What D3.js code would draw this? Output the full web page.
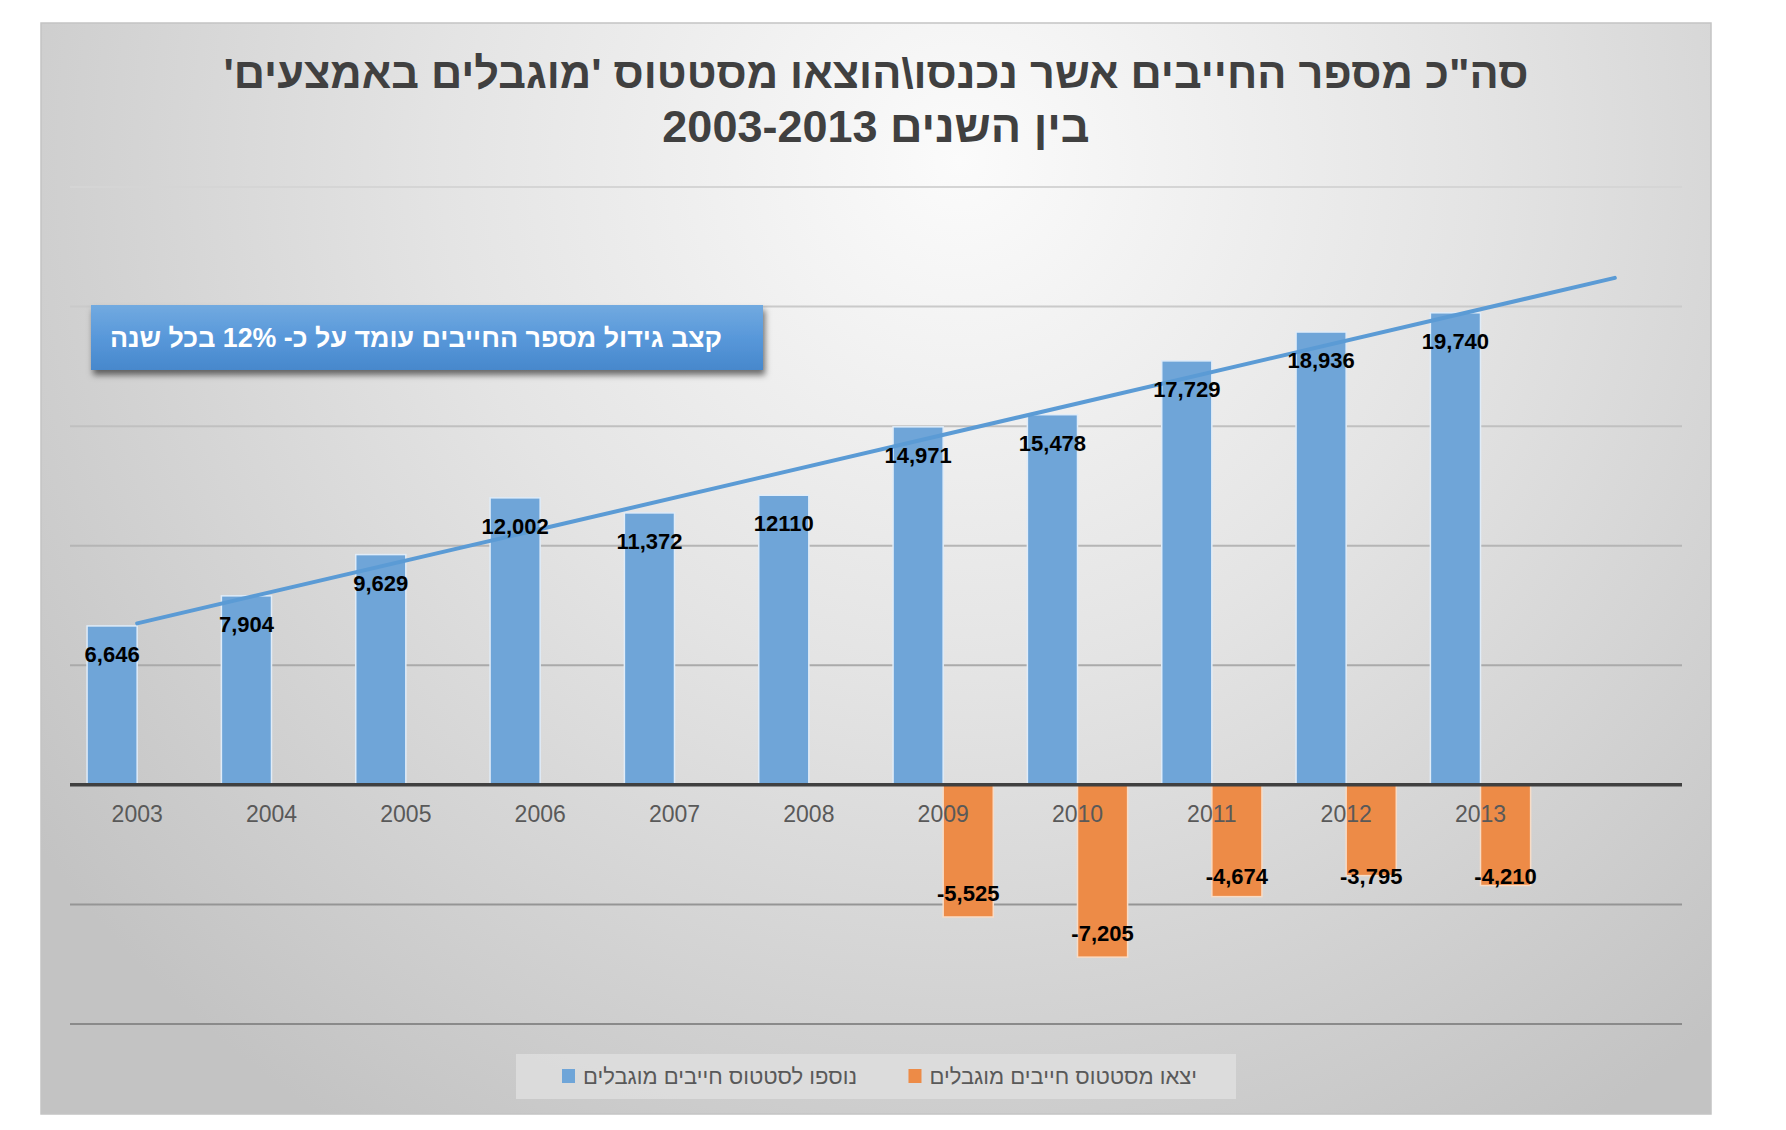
<!DOCTYPE html>
<html lang="he">
<head>
<meta charset="utf-8">
<script src="https://cdn.jsdelivr.net/npm/d3@7"></script>
<style>
  html, body { margin: 0; padding: 0; background: #ffffff; }
  svg { display: block; }
</style>
</head>
<body>
<svg id="chart" width="1786" height="1130"></svg>
<script>
// Yearly counts of debtors entering / leaving "restricted means" status
const years = [2003, 2004, 2005, 2006, 2007, 2008, 2009, 2010, 2011, 2012, 2013];
const entered = [6646, 7904, 9629, 12002, 11372, 12110, 14971, 15478, 17729, 18936, 19740];
const left = [null, null, null, null, null, null, -5525, -7205, -4674, -3795, -4210];
const plainLabelYears = [2008];          // label printed without thousands separator
const yTicks = [-10000, -5000, 0, 5000, 10000, 15000, 20000, 25000];

const titleLines = ["סה\"כ מספר החייבים אשר נכנסו\\הוצאו מסטטוס 'מוגבלים באמצעים'", "בין השנים 2003-2013"];
const calloutText = "קצב גידול מספר החייבים עומד על כ- 12% בכל שנה";
const seriesNames = ["נוספו לסטטוס חייבים מוגבלים", "יצאו מסטטוס חייבים מוגבלים"];

const BLUE = "#6fa5d8", ORANGE = "#ed8b47", TREND = "#5b9bd5";
const HEB = "'Liberation Sans', Arial, 'DejaVu Sans', sans-serif";

const svg = d3.select("#chart");
const defs = svg.append("defs");

// panel background
const panel = { x: 41, y: 23, w: 1670, h: 1091 };
const bg = defs.append("radialGradient").attr("id", "bg")
  .attr("gradientUnits", "userSpaceOnUse")
  .attr("cx", 960).attr("cy", 160).attr("r", 1150);
bg.append("stop").attr("offset", 0).attr("stop-color", "#fbfbfb");
bg.append("stop").attr("offset", 0.45).attr("stop-color", "#e4e4e4");
bg.append("stop").attr("offset", 1).attr("stop-color", "#c3c3c3");

svg.append("rect").attr("x", panel.x).attr("y", panel.y)
  .attr("width", panel.w).attr("height", panel.h)
  .attr("fill", "url(#bg)").attr("stroke", "#c4c4c4").attr("stroke-width", 1.5);

// title
svg.append("g").selectAll("text").data(titleLines).join("text")
  .attr("x", panel.x + panel.w / 2)
  .attr("y", (d, i) => 88 + i * 54)
  .attr("direction", "rtl")
  .attr("text-anchor", "middle")
  .attr("font-family", HEB).attr("font-weight", "bold")
  .attr("font-size", (d, i) => i === 0 ? 43.3 : 45)
  .attr("fill", "#404040")
  .text(d => d);

// scales: one extra slot on the right for the trend forecast
const slots = years.map(String).concat(["forecast"]);
const x = d3.scaleBand().domain(slots).range([70, 1682]).padding(0);
const y = d3.scaleLinear().domain([-10000, 25000]).range([1024, 187]);
const barW = x.bandwidth() * 0.373;
const cx = yr => x(String(yr)) + x.bandwidth() / 2;

// gridlines, fading darker toward the bottom
const gridColor = d3.scaleLinear().domain([25000, -10000]).range(["#d5d5d5", "#8a8a8a"]);
svg.append("g").selectAll("line").data(yTicks.filter(t => t !== 0)).join("line")
  .attr("x1", 70).attr("x2", 1682)
  .attr("y1", d => y(d)).attr("y2", d => y(d))
  .attr("stroke", d => gridColor(d)).attr("stroke-width", 2);

// bars
const addedData = years.map((yr, i) => ({ yr, v: entered[i] }));
const leftData = years.map((yr, i) => ({ yr, v: left[i] })).filter(d => d.v !== null);

svg.append("g").selectAll("rect").data(addedData).join("rect")
  .attr("x", d => cx(d.yr) - barW).attr("width", barW)
  .attr("y", d => y(d.v)).attr("height", d => y(0) - y(d.v))
  .attr("fill", BLUE).attr("stroke", "#e0ecf8").attr("stroke-width", 1.5);

svg.append("g").selectAll("rect").data(leftData).join("rect")
  .attr("x", d => cx(d.yr)).attr("width", barW)
  .attr("y", y(0)).attr("height", d => y(d.v) - y(0))
  .attr("fill", ORANGE).attr("stroke", "#f8dcc6").attr("stroke-width", 1.5);

// zero axis line
svg.append("line").attr("x1", 70).attr("x2", 1682)
  .attr("y1", y(0)).attr("y2", y(0))
  .attr("stroke", "#404040").attr("stroke-width", 3.5);

// category labels
const xAxis = d3.axisBottom(x).tickSize(0).tickPadding(0)
  .tickFormat(d => d === "forecast" ? "" : d);
const axG = svg.append("g").attr("transform", `translate(0,${y(0) + 37})`).call(xAxis);
axG.select(".domain").remove();
axG.selectAll("text").attr("font-family", HEB).attr("font-size", 23)
  .attr("fill", "#595959").attr("dy", 0);

// linear trend over the added series, projected one period ahead
const xi = entered.map((_, i) => i);
const mx = d3.mean(xi), my = d3.mean(entered);
const slope = d3.sum(xi, i => (i - mx) * (entered[i] - my)) / d3.sum(xi, i => (i - mx) ** 2);
const intercept = my - slope * mx;
const trendPts = [0, years.length].map(i => [x(slots[i]) + x.bandwidth() / 2, y(intercept + slope * i)]);
svg.append("path").attr("d", d3.line()(trendPts))
  .attr("fill", "none").attr("stroke", TREND).attr("stroke-width", 4)
  .attr("stroke-linecap", "round");

// data labels (plain hyphen for negatives)
const fmt = d3.formatLocale({ decimal: ".", thousands: ",", grouping: [3], currency: ["", ""], minus: "-" }).format(",");
const labelText = d => plainLabelYears.includes(d.yr) ? String(d.v) : fmt(d.v);
const LBL = "'Liberation Sans', Arial, sans-serif";
svg.append("g").selectAll("text").data(addedData).join("text")
  .attr("x", d => cx(d.yr) - barW / 2)
  .attr("y", d => y(d.v) + 28 + 8)
  .attr("text-anchor", "middle")
  .attr("font-family", LBL).attr("font-weight", "bold").attr("font-size", 22)
  .attr("fill", "#000").text(labelText);

svg.append("g").selectAll("text").data(leftData).join("text")
  .attr("x", d => cx(d.yr) + barW / 2)
  .attr("y", d => Math.max(y(d.v) - 24, y(0) + 91) + 8)
  .attr("text-anchor", "middle")
  .attr("font-family", LBL).attr("font-weight", "bold").attr("font-size", 22)
  .attr("fill", "#000").text(labelText);

// callout box
const cg = defs.append("linearGradient").attr("id", "callout")
  .attr("x1", 0).attr("y1", 0).attr("x2", 0).attr("y2", 1);
cg.append("stop").attr("offset", 0).attr("stop-color", "#72aae0");
cg.append("stop").attr("offset", 0.5).attr("stop-color", "#5898da");
cg.append("stop").attr("offset", 1).attr("stop-color", "#4788cc");
const sh = defs.append("filter").attr("id", "shadow")
  .attr("x", "-10%").attr("y", "-30%").attr("width", "130%").attr("height", "180%");
sh.append("feDropShadow").attr("dx", 2).attr("dy", 5).attr("stdDeviation", 3)
  .attr("flood-color", "#000").attr("flood-opacity", 0.55);

const box = { x: 91, y: 305, w: 672, h: 65 };
svg.append("rect").attr("x", box.x).attr("y", box.y).attr("width", box.w).attr("height", box.h)
  .attr("fill", "url(#callout)").attr("filter", "url(#shadow)");
svg.append("text").attr("x", 416).attr("y", box.y + box.h / 2 + 9)
  .attr("direction", "rtl").attr("text-anchor", "middle")
  .attr("font-family", HEB).attr("font-weight", "bold").attr("font-size", 26.8)
  .attr("fill", "#ffffff").text(calloutText);

// legend
const lg = svg.append("g");
lg.append("rect").attr("x", 516).attr("y", 1054).attr("width", 720).attr("height", 45)
  .attr("fill", "#dedede").attr("fill-opacity", 0.85);
const legendItems = [
  { name: seriesNames[1], color: ORANGE, right: 1197 },
  { name: seriesNames[0], color: BLUE, right: 857 }
];
legendItems.forEach(it => {
  const t = lg.append("text").attr("x", it.right).attr("y", 1084)
    .attr("direction", "rtl").attr("text-anchor", "start")
    .attr("font-family", HEB).attr("font-size", 22).attr("fill", "#595959")
    .text(it.name);
  const w = t.node().getComputedTextLength();
  lg.append("rect").attr("x", it.right - w - 8 - 13).attr("y", 1069)
    .attr("width", 13).attr("height", 14).attr("fill", it.color);
});
</script>
</body>
</html>
